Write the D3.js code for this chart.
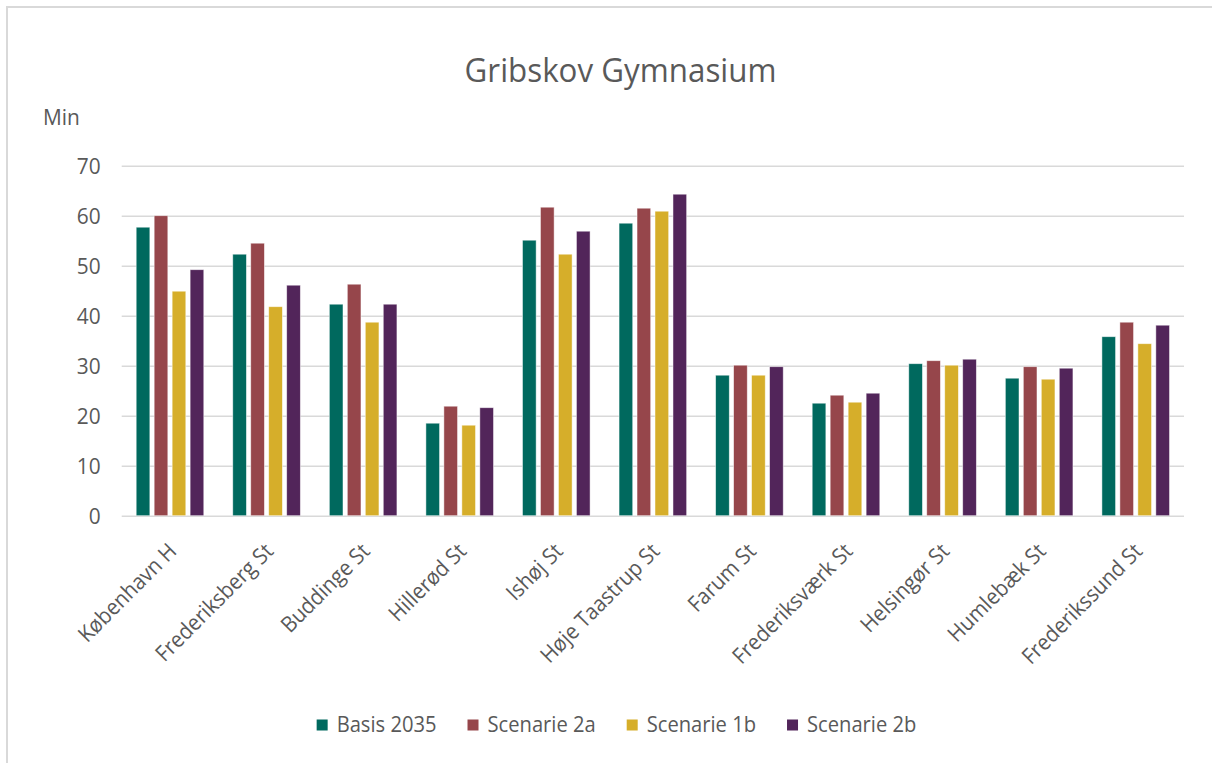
<!DOCTYPE html>
<html>
<head>
<meta charset="utf-8">
<script src="https://cdn.jsdelivr.net/npm/d3@7"></script>
<style>
  html, body { margin: 0; padding: 0; background: #fff; }
  svg text { font-family: "Open Sans", "Noto Sans", sans-serif; fill: #595959; }
</style>
</head>
<body>
<svg id="chart" width="1212" height="763"></svg>
<script>
// Travel time (minutes) from each station to Gribskov Gymnasium
const stations = ["København H", "Frederiksberg St", "Buddinge St", "Hillerød St", "Ishøj St",
  "Høje Taastrup St", "Farum St", "Frederiksværk St", "Helsingør St", "Humlebæk St", "Frederikssund St"];
const seriesNames = ["Basis 2035", "Scenarie 2a", "Scenarie 1b", "Scenarie 2b"];
const basis2035  = [57.7, 52.3, 42.3, 18.5, 55.1, 58.5, 28.1, 22.5, 30.4, 27.5, 35.8];
const scenarie2a = [60.0, 54.5, 46.3, 21.9, 61.7, 61.5, 30.1, 24.1, 31.0, 29.8, 38.7];
const scenarie1b = [44.9, 41.8, 38.7, 18.1, 52.3, 60.9, 28.1, 22.7, 30.1, 27.3, 34.4];
const scenarie2b = [49.2, 46.1, 42.3, 21.6, 56.9, 64.3, 29.8, 24.5, 31.3, 29.5, 38.1];
const yTicks = [0, 10, 20, 30, 40, 50, 60, 70];
const colors = ["#00695e", "#96464b", "#d6ae2a", "#52255a"];

const seriesValues = [basis2035, scenarie2a, scenarie1b, scenarie2b];
const svg = d3.select("#chart");

// frame lines (top and left edge of the chart area)
svg.append("path")
  .attr("d", "M7,763 V7 H1212")
  .attr("fill", "none").attr("stroke", "#d9d9d9").attr("stroke-width", 2);

const plot = { left: 121.7, right: 1184, top: 165.7, bottom: 515.7 };

const x = d3.scaleBand().domain(stations).range([plot.left, plot.right])
  .paddingInner(0.3).paddingOuter(0.15);
const xs = d3.scaleBand().domain(seriesNames).range([0, x.bandwidth()])
  .paddingInner(0.24).paddingOuter(0);
const y = d3.scaleLinear().domain([0, 70]).range([plot.bottom, plot.top]);

// gridlines + y labels
const yAxis = d3.axisLeft(y).tickValues(yTicks).tickSize(-(plot.right - plot.left)).tickPadding(0);
const gy = svg.append("g").attr("transform", `translate(${plot.left},0)`).call(yAxis);
gy.select(".domain").remove();
gy.selectAll(".tick line").attr("stroke", "#d9d9d9").attr("stroke-width", 1.6);
gy.selectAll(".tick text")
  .attr("x", 0).attr("dy", "0.36em")
  .attr("font-size", 22).attr("fill", "#595959")
  .attr("font-family", "\"Open Sans\", sans-serif")
  .attr("transform", "translate(-21,0) scale(0.95,1)");

// bars
const groups = svg.append("g").selectAll("g").data(stations).join("g")
  .attr("transform", d => `translate(${x(d)},0)`);
groups.selectAll("rect")
  .data((d, i) => seriesNames.map((s, k) => ({ s, v: seriesValues[k][i], k })))
  .join("rect")
  .attr("x", d => xs(d.s))
  .attr("width", xs.bandwidth())
  .attr("y", d => y(d.v))
  .attr("height", d => y(0) - y(d.v))
  .attr("fill", d => colors[d.k])
  .attr("stroke", "#ffffff").attr("stroke-opacity", 0.6).attr("stroke-width", 0.8);

// category labels, rotated 45°
const xAxis = d3.axisBottom(x).tickSize(0).tickPadding(0);
const gx = svg.append("g").attr("transform", `translate(0,${plot.bottom})`).call(xAxis);
gx.select(".domain").remove();
gx.selectAll(".tick text")
  .attr("font-size", 22).attr("fill", "#595959")
  .attr("font-family", "\"Open Sans\", sans-serif")
  .attr("text-anchor", "end")
  .attr("y", 0).attr("dy", 0)
  .attr("transform", "translate(8,37) rotate(-45) scale(0.93,1)");

// title and unit
svg.append("text").attr("text-anchor", "middle")
  .attr("transform", "translate(620.5,82) scale(0.95,1)")
  .attr("font-size", 33).text("Gribskov Gymnasium");
svg.append("text").attr("transform", "translate(43,125) scale(0.95,1)")
  .attr("font-size", 22).text("Min");

// legend, centred under the plot
const legendScale = 0.96, legendFont = 21;
const lg = svg.append("g");
const items = lg.selectAll("g").data(seriesNames).join("g");
items.append("rect").attr("x", 0).attr("y", -5.5).attr("width", 11).attr("height", 11)
  .attr("fill", (d, i) => colors[i]);
items.append("text").attr("transform", `translate(20,0) scale(${legendScale},1)`)
  .attr("dy", "0.35em").attr("font-size", legendFont).text(d => d);
let cursor = 0;
items.each(function () {
  const w = d3.select(this).select("text").node().getComputedTextLength() * legendScale;
  d3.select(this).attr("transform", `translate(${cursor},0)`);
  cursor += 20 + w + 31;
});
const legendWidth = cursor - 31;
lg.attr("transform", `translate(${616.5 - legendWidth / 2},725)`);
</script>
</body>
</html>
